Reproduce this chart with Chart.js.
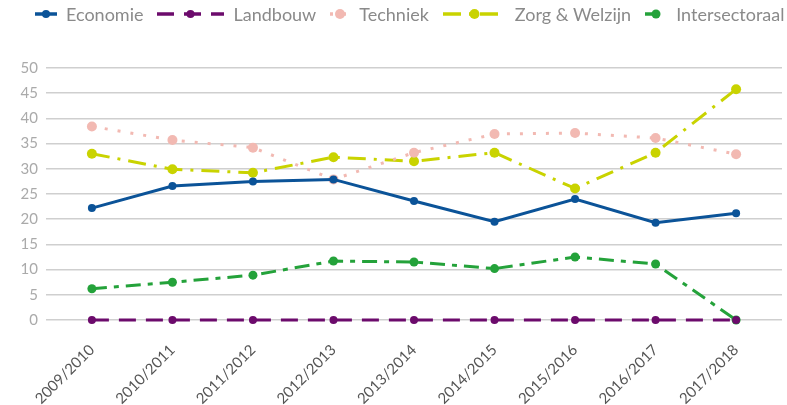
<!DOCTYPE html>
<html>
<head>
<meta charset="utf-8">
<script src="https://cdn.jsdelivr.net/npm/chart.js@4"></script>
<style>
    body { margin: 0; background: #fff; }
    #wrap { position: relative; width: 787px; height: 405px; }
    #legend { position: absolute; left: 35px; top: 3px; display: flex; align-items: center;
        font-family: Lato, sans-serif; font-size: 18px; color: #8a8a8a; white-space: nowrap; }
    .item { display: flex; align-items: center; margin-right: 14px; }
    .item canvas { margin-right: 9px; }
</style>
</head>
<body>
<div id="wrap">
    <div id="legend"></div>
    <canvas id="chart" width="787" height="405"></canvas>
</div>
<script>
const seasons = ["2009/2010", "2010/2011", "2011/2012", "2012/2013", "2013/2014",
    "2014/2015", "2015/2016", "2016/2017", "2017/2018"];

const economie = [22.2, 26.6, 27.5, 27.9, 23.6, 19.5, 24.0, 19.3, 21.2];
const landbouw = [0, 0, 0, 0, 0, 0, 0, 0, 0];
const techniek = [38.4, 35.7, 34.2, 27.9, 33.2, 36.9, 37.1, 36.1, 32.9];
const zorgWelzijn = [33.0, 29.9, 29.2, 32.3, 31.5, 33.2, 26.1, 33.2, 45.8];
const intersectoraal = [6.2, 7.5, 8.9, 11.7, 11.5, 10.2, 12.5, 11.1, 0];

const yTicks = [0, 5, 10, 15, 20, 25, 30, 35, 40, 45, 50];

function points(values) {
    return values.map((v, i) => ({ x: i, y: v }));
}

function makeSeries(label, values, color, dash, radius, markerWidth) {
    return {
        label: label,
        data: points(values),
        borderColor: color,
        backgroundColor: color,
        borderWidth: 3,
        borderDash: dash,
        pointRadius: radius,
        pointHoverRadius: radius,
        pointBorderWidth: 0,
        markerWidth: markerWidth,
        clip: false,
        tension: 0
    };
}

const datasets = [
    makeSeries('Economie', economie, '#0b5398', [], 4, 22),
    makeSeries('Landbouw', landbouw, '#6c0b6c', [17, 10], 4, 67),
    makeSeries('Techniek', techniek, '#f2b9b2', [3, 10], 5, 20),
    makeSeries('Zorg & Welzijn', zorgWelzijn, '#c9d300', [18, 8, 3, 8], 5, 63),
    makeSeries('Intersectoraal', intersectoraal, '#24a23a', [15, 7, 5, 7], 4.5, 22)
];

const chart = new Chart(document.getElementById('chart'), {
    type: 'line',
    data: { datasets: datasets },
    options: {
        responsive: false,
        animation: false,
        layout: { padding: { top: 68, right: 3, bottom: 0, left: 0 } },
        plugins: {
            legend: { display: false },
            tooltip: { enabled: false }
        },
        scales: {
            x: {
                type: 'linear',
                min: -0.57,
                max: 8.57,
                grid: { display: false },
                border: { display: false },
                afterFit: function(scale) { scale.height = 85; },
                afterBuildTicks: function(scale) {
                    scale.ticks = seasons.map((s, i) => ({ value: i }));
                },
                ticks: {
                    autoSkip: false,
                    minRotation: 45,
                    maxRotation: 45,
                    padding: 13,
                    color: '#555',
                    font: { family: 'Lato', size: 15 },
                    callback: function(value) { return seasons[value]; }
                }
            },
            y: {
                min: 0,
                max: 50,
                afterFit: function(scale) { scale.width = 46; },
                afterBuildTicks: function(scale) {
                    scale.ticks = yTicks.map(v => ({ value: v }));
                },
                grid: { color: '#cfcfcf', lineWidth: 1.5, drawTicks: false },
                border: { display: false },
                ticks: {
                    padding: 8,
                    color: '#aaa',
                    font: { family: 'Lato', size: 15 }
                }
            }
        }
    }
});

// legend built from the datasets
const legend = document.getElementById('legend');
chart.data.datasets.forEach(ds => {
    const item = document.createElement('div');
    item.className = 'item';
    const c = document.createElement('canvas');
    c.width = ds.markerWidth;
    c.height = 14;
    const ctx = c.getContext('2d');
    ctx.strokeStyle = ds.borderColor;
    ctx.lineWidth = ds.borderWidth + 0.5;
    ctx.setLineDash(ds.borderDash);
    ctx.beginPath();
    ctx.moveTo(0, 7);
    ctx.lineTo(c.width, 7);
    ctx.stroke();
    ctx.fillStyle = ds.backgroundColor;
    ctx.beginPath();
    ctx.arc(c.width / 2, 7, ds.pointRadius, 0, Math.PI * 2);
    ctx.fill();
    const span = document.createElement('span');
    span.textContent = ds.label;
    item.appendChild(c);
    item.appendChild(span);
    legend.appendChild(item);
});
</script>
</body>
</html>
